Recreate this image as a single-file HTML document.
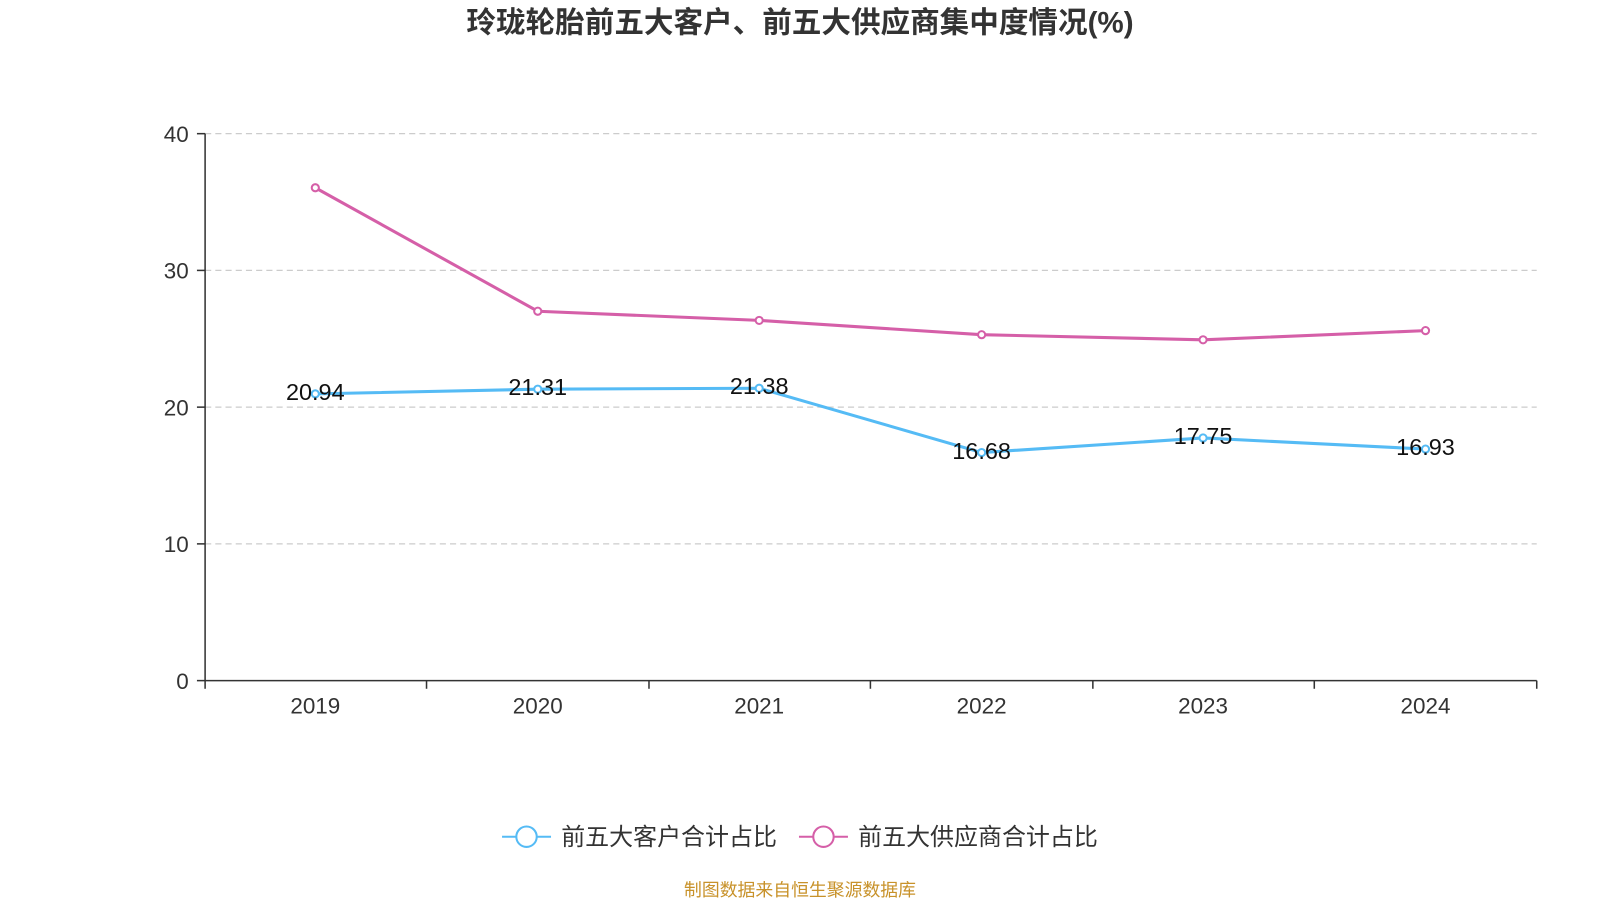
<!DOCTYPE html><html><head><meta charset="utf-8"><style>body{margin:0;background:#fff}svg{display:block}text{font-family:"Liberation Sans","Noto Sans CJK SC",sans-serif}</style></head><body>
<svg width="1600" height="900" viewBox="0 0 1568 882" xmlns="http://www.w3.org/2000/svg">
<text x="784" y="32" text-anchor="middle" font-size="29" font-weight="bold" fill="#333">玲珑轮胎前五大客户、前五大供应商集中度情况(%)</text>
<g stroke="#ccc" stroke-dasharray="6,4" stroke-width="1.2">
<line x1="201" x2="1506" y1="131" y2="131"/><line x1="201" x2="1506" y1="265" y2="265"/><line x1="201" x2="1506" y1="399" y2="399"/><line x1="201" x2="1506" y1="533" y2="533"/></g>
<g stroke="#333" stroke-width="1.5"><line x1="201" y1="131" x2="201" y2="667"/><line x1="201" y1="667" x2="1506" y2="667"/>
<line x1="193" x2="201" y1="131" y2="131"/><line x1="193" x2="201" y1="265" y2="265"/><line x1="193" x2="201" y1="399" y2="399"/><line x1="193" x2="201" y1="533" y2="533"/><line x1="193" x2="201" y1="667" y2="667"/>
<line x1="201" x2="201" y1="667" y2="675"/><line x1="418" x2="418" y1="667" y2="675"/><line x1="636" x2="636" y1="667" y2="675"/><line x1="853" x2="853" y1="667" y2="675"/><line x1="1071" x2="1071" y1="667" y2="675"/><line x1="1288" x2="1288" y1="667" y2="675"/><line x1="1506" x2="1506" y1="667" y2="675"/></g>
<g font-size="22" fill="#333" text-anchor="end"><text x="185" y="139">40</text><text x="185" y="273">30</text><text x="185" y="407">20</text><text x="185" y="541">10</text><text x="185" y="675">0</text></g>
<g font-size="22" fill="#333" text-anchor="middle"><text x="309" y="699">2019</text><text x="527" y="699">2020</text><text x="744" y="699">2021</text><text x="962" y="699">2022</text><text x="1179" y="699">2023</text><text x="1397" y="699">2024</text></g>
<polyline fill="none" stroke="#d55fa8" stroke-width="3" points="309,184 527,305 744,314 962,328 1179,333 1397,324"/>
<g fill="#fff" stroke="#d55fa8" stroke-width="2"><circle cx="309" cy="184" r="3.5"/><circle cx="527" cy="305" r="3.5"/><circle cx="744" cy="314" r="3.5"/><circle cx="962" cy="328" r="3.5"/><circle cx="1179" cy="333" r="3.5"/><circle cx="1397" cy="324" r="3.5"/></g>
<polyline fill="none" stroke="#55bbf5" stroke-width="3" points="309,386 527,381.4 744,380.5 962,443.5 1179,429.2 1397,440.1"/>
<g fill="#fff" stroke="#55bbf5" stroke-width="2"><circle cx="309" cy="386" r="3.5"/><circle cx="527" cy="381.4" r="3.5"/><circle cx="744" cy="380.5" r="3.5"/><circle cx="962" cy="443.5" r="3.5"/><circle cx="1179" cy="429.2" r="3.5"/><circle cx="1397" cy="440.1" r="3.5"/></g>
<g font-size="23" fill="#111" text-anchor="middle"><text x="309" y="392">20.94</text><text x="527" y="387">21.31</text><text x="744" y="386">21.38</text><text x="962" y="450">16.68</text><text x="1179" y="435">17.75</text><text x="1397" y="446">16.93</text></g>
<line x1="492" x2="540" y1="820" y2="820" stroke="#55bbf5" stroke-width="2"/><circle cx="516" cy="820" r="10" fill="#fff" stroke="#55bbf5" stroke-width="2"/>
<text x="550" y="828" font-size="23.5" fill="#333">前五大客户合计占比</text>
<line x1="783" x2="831" y1="820" y2="820" stroke="#d55fa8" stroke-width="2"/><circle cx="807" cy="820" r="10" fill="#fff" stroke="#d55fa8" stroke-width="2"/>
<text x="841" y="828" font-size="23.5" fill="#333">前五大供应商合计占比</text>
<text x="784" y="878" text-anchor="middle" font-size="17.5" fill="#c8922a">制图数据来自恒生聚源数据库</text>
</svg></body></html>
